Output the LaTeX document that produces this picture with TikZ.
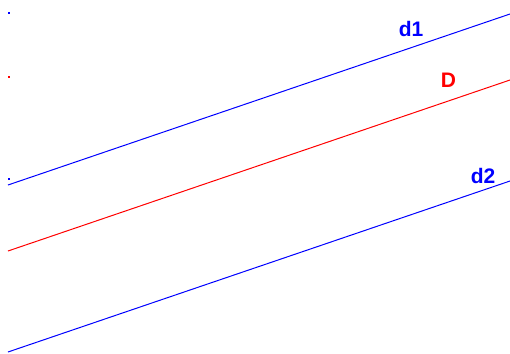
\documentclass[tikz,border=0pt]{standalone}
\usepackage{fontspec}
\setmainfont{Liberation Sans}
\begin{document}
\begin{tikzpicture}[x=1pt,y=-1pt,
  lbl/.style={font=\fontsize{21}{21}\selectfont\bfseries, inner sep=0pt},
  ln/.style={line width=1pt},
  dot/.style={fill, inner sep=0pt, minimum size=2pt}]
\useasboundingbox (0,0) rectangle (510,353);
% left-edge dots
\node[dot, blue] (p1) at (9,13) {};
\node[dot, red] (p2) at (9,77) {};
\node[dot, blue] (p3) at (9,179) {};
% line end points
\coordinate (a1) at (8,185);
\coordinate (b1) at (510,14);
\coordinate (a2) at (8,251);
\coordinate (b2) at (510,80);
\coordinate (a3) at (8,352);
\coordinate (b3) at (510,181);
\draw[ln, blue] (a1) -- (b1);
\draw[ln, red] (a2) -- (b2);
\draw[ln, blue] (a3) -- (b3);
% labels
\node[lbl, blue] (l1) at (411,28.5) {d1};
\node[lbl, red] (l2) at (448.5,80) {D};
\node[lbl, blue] (l3) at (483,176) {d2};
\end{tikzpicture}
\end{document}
